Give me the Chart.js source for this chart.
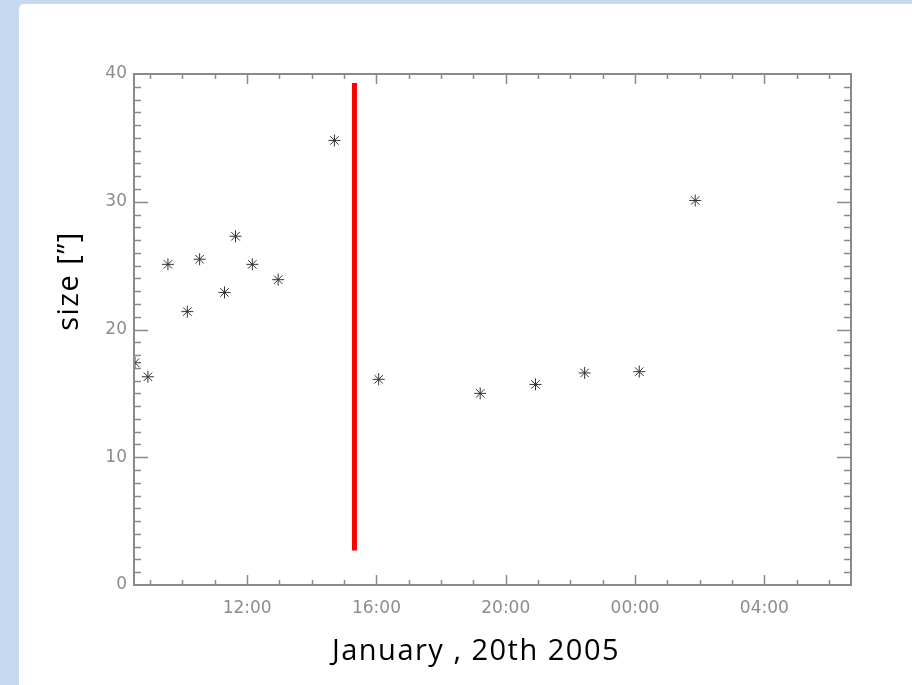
<!DOCTYPE html>
<html>
<head>
<meta charset="utf-8">
<script src="https://cdn.jsdelivr.net/npm/chart.js@4"></script>
<style>
body { margin:0; background:#c6d9f1; overflow:hidden; }
#panel { position:absolute; left:19px; top:4px; width:893px; height:681px; background:#fff; border-top-left-radius:5px; }
#wrap { position:absolute; left:0; top:0; width:912px; height:685px; }
</style>
</head>
<body>
<div id="panel"></div>
<div id="wrap"><canvas id="myChart"></canvas></div>
<script>
// hours since 00:00 on 20 Jan 2005 (24+ = next day)
times = [8.53, 8.93, 9.55, 10.15, 10.53, 11.30, 11.64, 12.16, 12.96, 14.70, 16.07, 19.21, 20.92, 22.44, 24.13, 25.86]
sizes = [17.4, 16.3, 25.1, 21.4, 25.5, 22.9, 27.3, 25.1, 23.9, 34.8, 16.1, 15.0, 15.7, 16.6, 16.7, 30.1]

// red marker line
flareX = [15.32, 15.32]
flareY = [2.7, 39.3]

xTicks = [12, 16, 20, 24, 28]
yTicks = [0, 10, 20, 30, 40]
xTitle = 'January , 20th 2005'
yTitle = 'size [\u201D]'

var pts = [];
for (var i = 0; i < times.length; i++) {
    pts.push({x: times[i], y: sizes[i]});
}
var flare = [];
for (var i = 0; i < flareX.length; i++) {
    flare.push({x: flareX[i], y: flareY[i]});
}

function pad2(n) { return (n < 10 ? '0' : '') + n; }

// inward ticks on all four sides + frame + axis titles
var frame = {
    id: 'frame',
    afterDatasetsDraw: function(chart) {
        var c = chart.ctx, a = chart.chartArea;
        var xs = chart.scales.x, ys = chart.scales.y;
        c.save();
        c.strokeStyle = '#8a8a8a';
        c.lineWidth = 1.5;
        c.beginPath();
        for (var h = 9; h <= 30; h++) {
            var px = Math.round(xs.getPixelForValue(h)) + 0.5;
            var len = ((h - 12) % 4 == 0) ? 10 : 5;
            c.moveTo(px, a.bottom); c.lineTo(px, a.bottom - len);
            c.moveTo(px, a.top); c.lineTo(px, a.top + len);
        }
        for (var v = 1; v < 40; v++) {
            var py = Math.round(ys.getPixelForValue(v)) + 0.5;
            var len = (v % 10 == 0) ? 14 : 7;
            c.moveTo(a.left, py); c.lineTo(a.left + len, py);
            c.moveTo(a.right, py); c.lineTo(a.right - len, py);
        }
        c.stroke();
        c.lineWidth = 2;
        c.strokeRect(a.left, a.top, a.right - a.left, a.bottom - a.top);
        c.restore();
    },
    afterDraw: function(chart) {
        var c = chart.ctx;
        c.save();
        c.fillStyle = '#000';
        c.font = '29px "Open Sans"';
        c.letterSpacing = '1.5px';
        c.textAlign = 'center';
        c.textBaseline = 'middle';
        c.fillText(xTitle, 476, 652);
        c.translate(70, 281);
        c.rotate(-Math.PI / 2);
        c.fillText(yTitle, 0, 0);
        c.restore();
    }
};

function chartdrawer(ctx)
{
    var myChart = new Chart(ctx, {
        type: 'scatter',
        data: {
            datasets: [{
                data: pts,
                pointStyle: 'star',
                radius: 6,
                borderColor: '#333',
                borderWidth: 1,
                backgroundColor: '#333',
                clip: 0
            },{
                type: 'line',
                data: flare,
                borderColor: '#ff0000',
                borderWidth: 5,
                pointRadius: 0,
                clip: 0
            }]
        },
        options: {
            responsive: true,
            maintainAspectRatio: false,
            animation: false,
            layout: { padding: { top: 74, right: 61, left: 0, bottom: 0 } },
            plugins: { legend: { display: false }, tooltip: { enabled: false } },
            scales: {
                x: {
                    type: 'linear',
                    min: 8.5,
                    max: 30.68,
                    grid: { display: false, drawTicks: false },
                    border: { display: false },
                    afterBuildTicks: function(s) { s.ticks = xTicks.map(function(v) { return {value: v}; }); },
                    afterFit: function(s) { s.height = 100; },
                    ticks: {
                        color: '#8c8c8c',
                        padding: 13,
                        maxRotation: 0,
                        font: { family: 'DejaVu Sans', size: 17 },
                        callback: function(v) { return pad2(v % 24) + ':00'; }
                    }
                },
                y: {
                    min: 0,
                    max: 40,
                    grid: { display: false, drawTicks: false },
                    border: { display: false },
                    afterBuildTicks: function(s) { s.ticks = yTicks.map(function(v) { return {value: v}; }); },
                    afterFit: function(s) { s.width = 134; },
                    ticks: {
                        color: '#8c8c8c',
                        padding: 7,
                        font: { family: 'DejaVu Sans', size: 17 }
                    }
                }
            }
        },
        plugins: [frame]
    });
}

var ctx = document.getElementById('myChart').getContext('2d');
chartdrawer(ctx);
</script>
</body>
</html>
